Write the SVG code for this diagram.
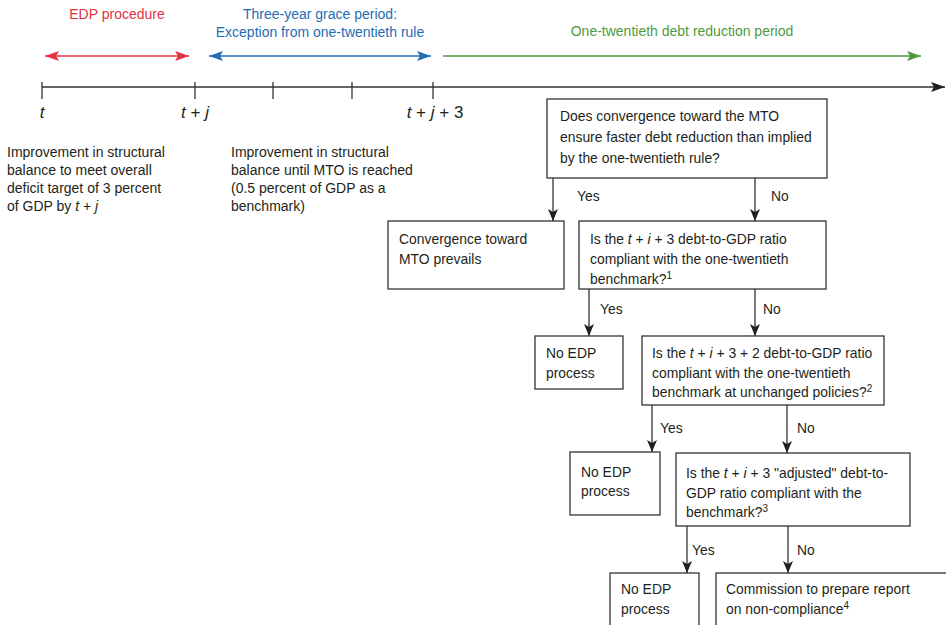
<svg xmlns="http://www.w3.org/2000/svg" width="946" height="625" viewBox="0 0 946 625">
<style>
text{font-family:"Liberation Sans",Arial,sans-serif;font-size:13.9px;fill:#231f20}
.lab{font-size:14px}
.tl{font-size:17px}
.i{font-style:italic}
.box{fill:#fff;stroke:#333;stroke-width:1.3}
.con{stroke:#333;stroke-width:1.3;fill:none;marker-end:url(#ah)}
.tick{stroke:#333;stroke-width:1.3}
.sup{font-size:10px}
</style>
<defs>
<marker id="ah" viewBox="0 0 12 10" refX="12" refY="5" markerWidth="12" markerHeight="10" markerUnits="userSpaceOnUse" orient="auto">
<path d="M0,0 L12,5 L0,10 L3,5 Z" fill="#231f20"/>
</marker>
<marker id="axh" viewBox="0 0 14 10" refX="14" refY="5" markerWidth="14" markerHeight="10" markerUnits="userSpaceOnUse" orient="auto">
<path d="M0,0 L14,5 L0,10 L3,5 Z" fill="#231f20"/>
</marker>
<marker id="rE" viewBox="0 0 14 10" refX="14" refY="5" markerWidth="14" markerHeight="10" markerUnits="userSpaceOnUse" orient="auto-start-reverse">
<path d="M0,0 L14,5 L0,10 L3,5 Z" fill="#e2323f"/>
</marker>
<marker id="bE" viewBox="0 0 14 10" refX="14" refY="5" markerWidth="14" markerHeight="10" markerUnits="userSpaceOnUse" orient="auto-start-reverse">
<path d="M0,0 L14,5 L0,10 L3,5 Z" fill="#1f6db4"/>
</marker>
<marker id="gE" viewBox="0 0 14 10" refX="14" refY="5" markerWidth="14" markerHeight="10" markerUnits="userSpaceOnUse" orient="auto">
<path d="M0,0 L14,5 L0,10 L3,5 Z" fill="#4f9a42"/>
</marker>
</defs>

<g id="periods">
<text class="lab" x="117" y="19" text-anchor="middle" style="fill:#e2323f">EDP procedure</text>
<text class="lab" x="320" y="19" text-anchor="middle" style="fill:#1f6db4">Three-year grace period:</text>
<text class="lab" x="320" y="37" text-anchor="middle" style="fill:#1f6db4">Exception from one-twentieth rule</text>
<text class="lab" x="682" y="36" text-anchor="middle" style="fill:#4f9a42">One-twentieth debt reduction period</text>
<line x1="45" y1="56" x2="189" y2="56" stroke="#e2323f" stroke-width="1.3" marker-start="url(#rE)" marker-end="url(#rE)"/>
<line x1="209" y1="56" x2="431" y2="56" stroke="#1f6db4" stroke-width="1.3" marker-start="url(#bE)" marker-end="url(#bE)"/>
<line x1="443" y1="56" x2="921" y2="56" stroke="#4f9a42" stroke-width="1.3" marker-end="url(#gE)"/>
</g>

<g id="timeline">
<line x1="42" y1="87" x2="945" y2="87" stroke="#333" stroke-width="1.3" marker-end="url(#axh)"/>
<line class="tick" x1="42" y1="82" x2="42" y2="99"/>
<line class="tick" x1="195" y1="82" x2="195" y2="99"/>
<line class="tick" x1="273" y1="82" x2="273" y2="99"/>
<line class="tick" x1="352" y1="82" x2="352" y2="99"/>
<line class="tick" x1="433" y1="82" x2="433" y2="99"/>
<text class="tl i" x="42" y="118" text-anchor="middle">t</text>
<text class="tl" x="195" y="118" text-anchor="middle"><tspan class="i">t</tspan> + <tspan class="i">j</tspan></text>
<text class="tl" x="435" y="118" text-anchor="middle"><tspan class="i">t</tspan> + <tspan class="i">j</tspan> + 3</text>
</g>

<g id="desc-edp">
<text class="lab" x="7" y="157">Improvement in structural</text>
<text class="lab" x="7" y="175">balance to meet overall</text>
<text class="lab" x="7" y="193">deficit target of 3 percent</text>
<text class="lab" x="7" y="211">of GDP by <tspan class="i">t</tspan> + <tspan class="i">j</tspan></text>
</g>

<g id="desc-grace">
<text class="lab" x="231" y="157">Improvement in structural</text>
<text class="lab" x="231" y="175">balance until MTO is reached</text>
<text class="lab" x="231" y="193">(0.5 percent of GDP as a</text>
<text class="lab" x="231" y="211">benchmark)</text>
</g>

<g id="q1">
<rect class="box" x="547" y="99" width="280" height="79"/>
<text x="560" y="121">Does convergence toward the MTO</text>
<text x="560" y="142">ensure faster debt reduction than implied</text>
<text x="560" y="163">by the one-twentieth rule?</text>
</g>

<g id="mto-prevails">
<rect class="box" x="388" y="221" width="176" height="68"/>
<text x="399" y="244">Convergence toward</text>
<text x="399" y="264">MTO prevails</text>
</g>

<g id="q2">
<rect class="box" x="579" y="221" width="247" height="68"/>
<text x="590" y="244">Is the <tspan class="i">t</tspan> + <tspan class="i">i</tspan> + 3 debt-to-GDP ratio</text>
<text x="590" y="264">compliant with the one-twentieth</text>
<text x="590" y="284">benchmark?<tspan class="sup" dy="-5">1</tspan></text>
</g>

<g id="no-edp-1">
<rect class="box" x="535" y="336" width="88" height="53"/>
<text x="546" y="358">No EDP</text>
<text x="546" y="378">process</text>
</g>

<g id="q3">
<rect class="box" x="642" y="336" width="242" height="69"/>
<text x="652" y="358">Is the <tspan class="i">t</tspan> + <tspan class="i">i</tspan> + 3 + 2 debt-to-GDP ratio</text>
<text x="652" y="378">compliant with the one-twentieth</text>
<text x="652" y="397">benchmark at unchanged policies?<tspan class="sup" dy="-5">2</tspan></text>
</g>

<g id="no-edp-2">
<rect class="box" x="570" y="452" width="90" height="63"/>
<text x="581" y="477">No EDP</text>
<text x="581" y="496">process</text>
</g>

<g id="q4">
<rect class="box" x="676" y="453" width="234" height="73"/>
<text x="686" y="478">Is the <tspan class="i">t</tspan> + <tspan class="i">i</tspan> + 3 "adjusted" debt-to-</text>
<text x="686" y="498">GDP ratio compliant with the</text>
<text x="686" y="517">benchmark?<tspan class="sup" dy="-5">3</tspan></text>
</g>

<g id="no-edp-3">
<rect class="box" x="610" y="573" width="89" height="60"/>
<text x="621" y="594">No EDP</text>
<text x="621" y="614">process</text>
</g>

<g id="commission">
<rect class="box" x="716" y="573" width="240" height="60"/>
<text x="726" y="594">Commission to prepare report</text>
<text x="726" y="614">on non-compliance<tspan class="sup" dy="-5">4</tspan></text>
</g>

<g id="connectors">
<line class="con" x1="553" y1="178" x2="553" y2="221"/>
<line class="con" x1="755" y1="178" x2="755" y2="221"/>
<line class="con" x1="589" y1="289" x2="589" y2="336"/>
<line class="con" x1="755" y1="289" x2="755" y2="336"/>
<line class="con" x1="652" y1="405" x2="652" y2="452"/>
<line class="con" x1="787" y1="405" x2="787" y2="453"/>
<line class="con" x1="687" y1="526" x2="687" y2="573"/>
<line class="con" x1="788" y1="526" x2="788" y2="573"/>
<text x="577" y="201">Yes</text>
<text x="771" y="201">No</text>
<text x="600" y="314">Yes</text>
<text x="763" y="314">No</text>
<text x="660" y="433">Yes</text>
<text x="797" y="433">No</text>
<text x="692" y="555">Yes</text>
<text x="797" y="555">No</text>
</g>
</svg>
